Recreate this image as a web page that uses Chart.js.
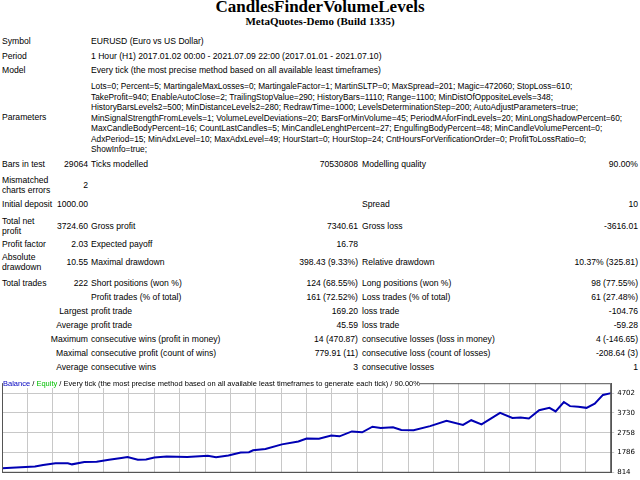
<!DOCTYPE html>
<html><head><meta charset="utf-8">
<script src="https://cdn.jsdelivr.net/npm/chart.js@4/dist/chart.umd.min.js"></script>
<style>
body{margin:0;width:640px;height:480px;background:#fff;position:relative;overflow:hidden;font-family:"Liberation Sans",sans-serif;font-size:8.6px;color:#000}
.t{position:absolute;white-space:nowrap;line-height:10px}
.r{text-align:right}
#title{position:absolute;top:-3px;left:0;width:640px;text-align:center;font-family:"Liberation Serif",serif;font-weight:bold;font-size:17px}
#sub{position:absolute;top:15px;left:0;width:640px;text-align:center;font-family:"Liberation Serif",serif;font-weight:bold;font-size:11px}
#params{position:absolute;left:91px;top:81px;line-height:10.5px;white-space:nowrap;font-size:8.3px}
#wrap{position:absolute;left:0;top:376px;width:640px;height:104px}
#leg{position:absolute;left:3px;top:379px;font-size:7.5px;white-space:nowrap;background:#fff}
</style></head><body>
<div id="title">CandlesFinderVolumeLevels</div>
<div id="sub">MetaQuotes-Demo (Build 1335)</div>
<div id="params">Lots=0; Percent=5; MartingaleMaxLosses=0; MartingaleFactor=1; MartinSLTP=0; MaxSpread=201; Magic=472060; StopLoss=610;<br>TakeProfit=940; EnableAutoClose=2; TrailingStopValue=290; HistoryBars=1110; Range=1100; MinDistOfOppositeLevels=348;<br>HistoryBarsLevels2=500; MinDistanceLevels2=280; RedrawTime=1000; LevelsDeterminationStep=200; AutoAdjustParameters=true;<br>MinSignalStrengthFromLevels=1; VolumeLevelDeviations=20; BarsForMinVolume=45; PeriodMAforFindLevels=20; MinLongShadowPercent=60;<br>MaxCandleBodyPercent=16; CountLastCandles=5; MinCandleLenghtPercent=27; EngulfingBodyPercent=48; MinCandleVolumePercent=0;<br>AdxPeriod=15; MinAdxLevel=10; MaxAdxLevel=49; HourStart=0; HourStop=24; CntHoursForVerificationOrder=0; ProfitToLossRatio=0;<br>ShowInfo=true;</div>
<div id="rows"></div>
<div id="wrap"><canvas id="c"></canvas></div>
<div id="leg"><span style="color:#0000c0">Balance</span> / <span style="color:#00c000">Equity</span> / Every tick (the most precise method based on all available least timeframes to generate each tick) / 90.00%</div>
<script>
// [y, label1, value1, label2, value2, label3, value3]
const rows=[
[41,"Symbol","","EURUSD (Euro vs US Dollar)","","",""],
[55.5,"Period","","1 Hour (H1) 2017.01.02 00:00 - 2021.07.09 22:00 (2017.01.01 - 2021.07.10)","","",""],
[70,"Model","","Every tick (the most precise method based on all available least timeframes)","","",""],
[117,"Parameters","","","","",""],
[164,"Bars in test","29064","Ticks modelled","70530808","Modelling quality","90.00%"],
[185,"Mismatched<br>charts errors","2","","","",""],
[204,"Initial deposit","1000.00","","","Spread","10"],
[226,"Total net<br>profit","3724.60","Gross profit","7340.61","Gross loss","-3616.01"],
[244,"Profit factor","2.03","Expected payoff","16.78","",""],
[262,"Absolute<br>drawdown","10.55","Maximal drawdown","398.43 (9.33%)","Relative drawdown","10.37% (325.81)"],
[283,"Total trades","222","Short positions (won %)","124 (68.55%)","Long positions (won %)","98 (77.55%)"],
[297,"","","Profit trades (% of total)","161 (72.52%)","Loss trades (% of total)","61 (27.48%)"],
[311,"","Largest","profit trade","169.20","loss trade","-104.76"],
[325,"","Average","profit trade","45.59","loss trade","-59.28"],
[339,"","Maximum","consecutive wins (profit in money)","14 (470.87)","consecutive losses (loss in money)","4 (-146.65)"],
[353,"","Maximal","consecutive profit (count of wins)","779.91 (11)","consecutive loss (count of losses)","-208.64 (3)"],
[367,"","Average","consecutive wins","3","consecutive losses","1"]];
const tradeNo=[0,12,15,19.5,24,25.5,30,34.5,39,43.5,45.75,49.5,52.5,55.5,60,67.5,75,78,82.5,87,90,91.5,96,102,108,111,115.5,120,123,127.5,131.25,135,138,142.5,145.5,150,156,162,168,171,174.75,181.5,186,189,192,195.75,199.5,201.75,204.75,207,210,213,216,219,222];
const balance=[1016,1103,1175,1262,1262,1205,1320,1330,1435,1522,1565,1435,1440,1537,1594,1570,1623,1551,1637,1782,1800,1898,1955,2187,2331,2476,2461,2620,2580,2822,2780,3053,2995,3030,2895,2880,3083,3343,3141,3372,3170,3733,3487,3510,3459,3863,3979,3806,4267,4064,4035,3979,4180,4614,4702];
const yTicks=[814,1786,2758,3730,4702];
let h="";
for(const r of rows){
 const two=r[1].includes("<br>");
 const top=r[0]-(two?10:5);
 h+=`<div class="t" style="left:2px;top:${top}px">${r[1]}</div>`;
 if(r[2]) h+=`<div class="t r" style="right:${640-88}px;top:${r[0]-5}px">${r[2]}</div>`;
 if(r[3]) h+=`<div class="t" style="left:91px;top:${r[0]-5}px">${r[3]}</div>`;
 if(r[4]) h+=`<div class="t r" style="right:${640-358}px;top:${r[0]-5}px">${r[4]}</div>`;
 if(r[5]) h+=`<div class="t" style="left:362px;top:${r[0]-5}px">${r[5]}</div>`;
 if(r[6]) h+=`<div class="t r" style="right:2px;top:${r[0]-5}px">${r[6]}</div>`;
}
document.getElementById("rows").innerHTML=h;
new Chart(document.getElementById("c"),{type:"line",
 data:{datasets:[{data:tradeNo.map((x,i)=>({x,y:balance[i]})),borderColor:"#0000b4",borderWidth:2,pointRadius:0,tension:0}]},
 options:{responsive:true,maintainAspectRatio:false,animation:false,events:[],
  layout:{padding:{left:2,top:2,right:2,bottom:0}},
  plugins:{legend:{display:false},tooltip:{enabled:false}},
  scales:{
   x:{type:"linear",min:0,max:222,afterBuildTicks:a=>{a.ticks=[];for(let i=0;i<=24;i++)a.ticks.push({value:222*i/24});},
      ticks:{display:false},grid:{color:"#c8c8c8",tickLength:0,drawTicks:false},border:{display:true,color:"#555"}},
   y:{position:"right",min:790,max:5190,afterBuildTicks:a=>{a.ticks=yTicks.map(v=>({value:v}));},
      ticks:{font:{size:7,family:"DejaVu Sans"},color:"#000",padding:3,callback:v=>String(v)},
      grid:{color:"#c8c8c8",drawTicks:true,tickLength:3},border:{display:true,color:"#555"}}
  }},
 plugins:[{id:"frame",afterDraw(c){const a=c.chartArea,x=c.ctx;x.save();x.strokeStyle="#555";x.lineWidth=1;x.strokeRect(a.left+.5,a.top+.5,a.right-a.left-1,a.bottom-a.top-1);x.restore();}}]
});
</script></body></html>
